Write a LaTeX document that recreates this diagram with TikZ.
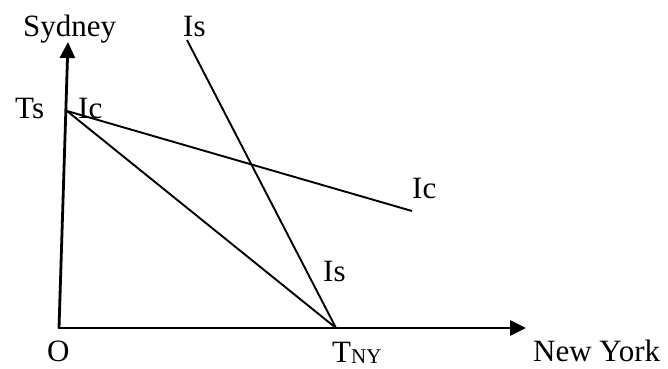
\documentclass[tikz,border=0pt]{standalone}
\usepackage{fontspec}
\setmainfont{Liberation Serif}
\usetikzlibrary{arrows.meta}
\begin{document}
\begin{tikzpicture}[x=1pt,y=-1pt,
  lbl/.style={anchor=base west,inner sep=0pt,font=\fontsize{31}{31}\selectfont},
  axis/.style={line width=2.8pt,-{Triangle[length=16pt,width=15pt]}},
  curve/.style={line width=1.9pt}]
\useasboundingbox (0,0) rectangle (668,368);
\coordinate (O) at (59,328);
\coordinate (ytip) at (68,42);
\coordinate (xtip) at (526,328);
\coordinate (Ts) at (67,111);
\coordinate (TNY) at (336,328);
\coordinate (IsTop) at (187,40);
\coordinate (IcEnd) at (412,211);
\draw[axis] (O) -- (ytip);
\draw[axis] ([xshift=-1.4pt]O) -- (xtip);
\draw[curve] (IsTop) -- (TNY);
\draw[curve] (Ts) -- (TNY);
\draw[curve] (Ts) -- (IcEnd);
\node[lbl] (sy) at (23,36) {Sydney};
\node[lbl] (is1) at (183,36) {Is};
\node[lbl] (ts) at (15,118) {Ts};
\node[lbl] (ic1) at (78,118) {Ic};
\node[lbl] (ic2) at (412,198) {Ic};
\node[lbl] (is2) at (323,281) {Is};
\node[lbl] (o) at (47,361) {O};
\node[lbl] (tny) at (332,362) {T\raisebox{-1.5pt}{\fontsize{21}{21}\selectfont NY}};
\node[lbl] (ny) at (533,361) {New York};
\end{tikzpicture}
\end{document}
